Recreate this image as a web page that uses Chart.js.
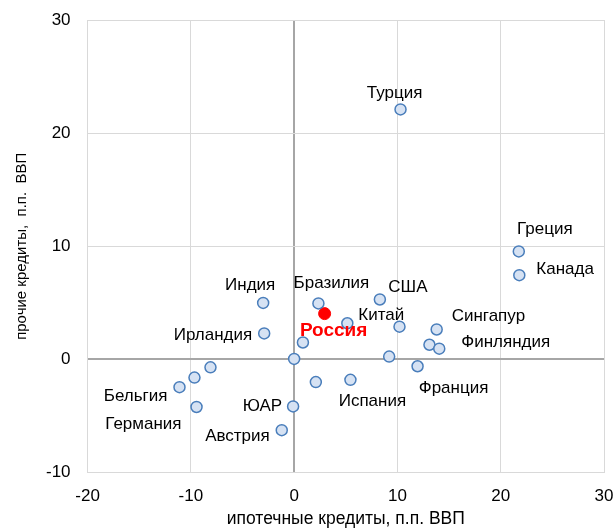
<!DOCTYPE html>
<html>
<head>
<meta charset="utf-8">
<script src="https://cdn.jsdelivr.net/npm/chart.js@4"></script>
<style>
  html, body { margin: 0; padding: 0; background: #fff; }
  #wrap { width: 615px; height: 529px; }
</style>
</head>
<body>
<div id="wrap"><canvas id="chart"></canvas></div>
<script>
// страны (пустое имя - точка без подписи)
const countries = ['Турция', 'Греция', 'Канада', 'Индия', 'Бразилия', 'США', 'Китай', '', 'Сингапур', '',
    'Финляндия', 'Ирландия', '', '', '', 'Франция', '', '', 'Бельгия', 'Германия', '', 'Испания', 'ЮАР', 'Австрия'];
// ипотечные кредиты, п.п. ВВП
const mortgage = [10.3, 21.75, 21.8, -3.0, 2.35, 8.3, 5.15, 10.2, 13.8, 13.1,
    14.05, -2.9, 0.85, 0.0, 9.2, 11.95, -8.1, -9.65, -11.1, -9.45, 2.1, 5.45, -0.1, -1.2];
// прочие кредиты, п.п. ВВП
const otherLoans = [22.1, 9.55, 7.45, 5.0, 4.95, 5.3, 3.2, 2.9, 2.65, 1.3,
    0.95, 2.3, 1.5, 0.05, 0.25, -0.6, -0.7, -1.6, -2.45, -4.2, -2.0, -1.8, -4.15, -6.25];

const russiaName = ['Россия'];
const russiaMortgage = [2.95];
const russiaOther = [4.05];

const xTicks = [-20, -10, 0, 10, 20, 30];
const yTicks = [-10, 0, 10, 20, 30];

const FONT = '"Liberation Sans", Arial, sans-serif';

// смещения подписей относительно точки: [dx, dy, выравнивание]
const labelPos = {
    'Турция': [-6, -16, 'center'],
    'Греция': [26, -22, 'center'],
    'Канада': [17, -6, 'left'],
    'Индия': [-13, -18, 'center'],
    'Бразилия': [13, -20, 'center'],
    'США': [28, -12, 'center'],
    'Китай': [34, -8, 'center'],
    'Сингапур': [15, -13, 'left'],
    'Финляндия': [22, -6, 'left'],
    'Ирландия': [-12, 2, 'right'],
    'Франция': [36, 22, 'center'],
    'Испания': [22, 21, 'center'],
    'Бельгия': [-12, 9, 'right'],
    'Германия': [-15, 17, 'right'],
    'ЮАР': [-11, 0, 'right'],
    'Австрия': [-12, 6, 'right'],
    'Россия': [9, 17, 'center']
};

const pointLabels = {
    id: 'pointLabels',
    afterDatasetsDraw(chart) {
        const ctx = chart.ctx;
        ctx.save();
        ctx.textBaseline = 'middle';
        chart.data.datasets.forEach((ds, i) => {
            const meta = chart.getDatasetMeta(i);
            meta.data.forEach((pt, j) => {
                const name = ds.names[j];
                if (!name) return;
                const [dx, dy, align] = labelPos[name] || [0, -14, 'center'];
                ctx.textAlign = align;
                if (ds.highlight) {
                    ctx.font = 'bold 19px ' + FONT;
                    ctx.fillStyle = '#ff0000';
                } else {
                    ctx.font = '17px ' + FONT;
                    ctx.fillStyle = '#000';
                }
                ctx.fillText(name, pt.x + dx, pt.y + dy);
            });
        });
        ctx.restore();
    }
};

const gridColor = c => (c.tick && c.tick.value === 0) ? '#a6a6a6' : '#d9d9d9';
const gridWidth = c => (c.tick && c.tick.value === 0) ? 2 : 1;

// без автоматических отступов под крайние подписи осей
const noEdgePadding = s => {
    s.paddingLeft = 0;
    s.paddingRight = 0;
    s.paddingTop = 0;
    s.paddingBottom = 0;
};

new Chart(document.getElementById('chart'), {
    type: 'scatter',
    data: {
        datasets: [
            {
                names: countries,
                data: mortgage.map((x, i) => ({ x: x, y: otherLoans[i] })),
                pointRadius: 5.5,
                pointBackgroundColor: '#d6e2f3',
                pointBorderColor: '#4a7ebb',
                pointBorderWidth: 1.5
            },
            {
                names: russiaName,
                highlight: true,
                data: russiaMortgage.map((x, i) => ({ x: x, y: russiaOther[i] })),
                pointRadius: 6,
                pointBackgroundColor: '#ff0000',
                pointBorderColor: '#ff0000',
                pointBorderWidth: 1
            }
        ]
    },
    options: {
        responsive: true,
        maintainAspectRatio: false,
        animation: false,
        layout: { padding: { left: 4, right: 11, top: 20, bottom: 0 } },
        plugins: {
            legend: { display: false },
            tooltip: { enabled: false }
        },
        scales: {
            x: {
                type: 'linear',
                min: -20,
                max: 30,
                afterBuildTicks: s => { s.ticks = xTicks.map(v => ({ value: v })); },
                afterFit: noEdgePadding,
                grid: { color: gridColor, lineWidth: gridWidth, drawTicks: false },
                border: { display: false },
                ticks: { color: '#000', padding: 14, font: { family: FONT, size: 17 } },
                title: {
                    display: true,
                    text: 'ипотечные кредиты, п.п. ВВП',
                    color: '#000',
                    padding: { top: -12, bottom: -1 },
                    font: { family: FONT, size: 17.5 }
                }
            },
            y: {
                type: 'linear',
                min: -10,
                max: 30,
                afterBuildTicks: s => { s.ticks = yTicks.map(v => ({ value: v })); },
                afterFit: noEdgePadding,
                grid: { color: gridColor, lineWidth: gridWidth, drawTicks: false },
                border: { display: false },
                ticks: { color: '#000', padding: 17, font: { family: FONT, size: 17 } },
                title: {
                    display: true,
                    text: 'прочие кредиты,  п.п.  ВВП',
                    color: '#000',
                    padding: { top: 9, bottom: -2 },
                    font: { family: FONT, size: 15 }
                }
            }
        }
    },
    plugins: [pointLabels]
});
</script>
</body>
</html>
